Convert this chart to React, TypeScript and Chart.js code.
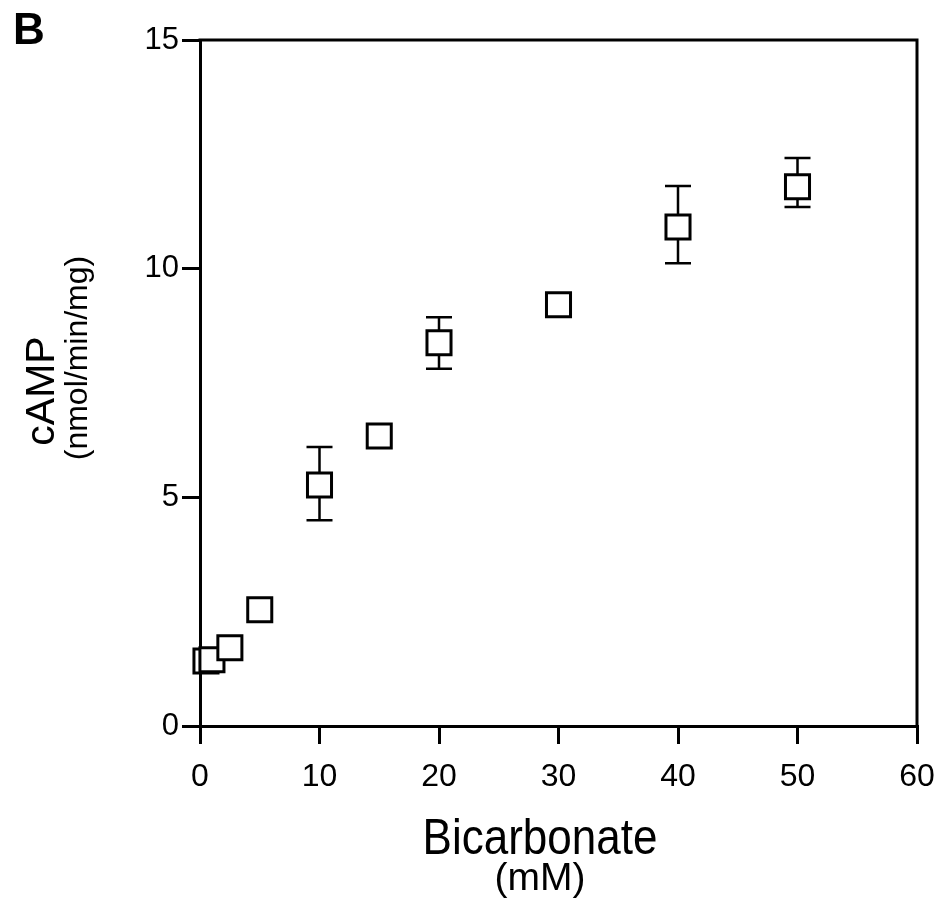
import React, { useEffect, useRef } from 'react';
import { Chart, registerables } from 'chart.js';
Chart.register(...registerables);

// ---- data ----
const bicarbonate = [0.5, 1, 2.5, 5, 10, 15, 20, 30, 40, 50];
const camp = [1.42, 1.45, 1.71, 2.54, 5.27, 6.34, 8.38, 9.21, 10.91, 11.79];
const errHigh: (number | null)[] = [null, null, null, null, 6.1, null, 8.94, null, 11.81, 12.42];
const errLow: (number | null)[] = [null, null, null, null, 4.5, null, 7.81, null, 10.12, 11.35];
const xTicks = [0, 10, 20, 30, 40, 50, 60];
const yTicks = [0, 5, 10, 15];

const FONT = '"Liberation Sans", Arial, Helvetica, sans-serif';

const decor = {
  id: 'decor',
  beforeDatasetsDraw(chart: any) {
    const { ctx, chartArea: a, scales } = chart;
    const x = scales.x;
    const y = scales.y;
    ctx.save();
    ctx.strokeStyle = '#000';
    ctx.lineWidth = 3;
    ctx.lineCap = 'square';
    ctx.beginPath();
    ctx.moveTo(a.left, a.top);
    ctx.lineTo(a.right, a.top);
    ctx.lineTo(a.right, a.bottom);
    ctx.stroke();
    ctx.lineCap = 'butt';
    ctx.lineWidth = 2.5;
    bicarbonate.forEach((xv, i) => {
      const hi = errHigh[i];
      const lo = errLow[i];
      if (hi == null || lo == null) return;
      const px = x.getPixelForValue(xv);
      const pc = y.getPixelForValue(camp[i]);
      const ph = y.getPixelForValue(hi);
      const pl = y.getPixelForValue(lo);
      ctx.beginPath();
      ctx.moveTo(px, pc);
      ctx.lineTo(px, ph);
      ctx.moveTo(px - 13, ph);
      ctx.lineTo(px + 13, ph);
      ctx.moveTo(px, pc);
      ctx.lineTo(px, pl);
      ctx.moveTo(px - 13, pl);
      ctx.lineTo(px + 13, pl);
      ctx.stroke();
    });
    ctx.restore();
  },
  afterDraw(chart: any) {
    const { ctx } = chart;
    ctx.save();
    ctx.fillStyle = '#000';
    // panel letter
    ctx.font = `bold 44px ${FONT}`;
    ctx.textAlign = 'left';
    ctx.textBaseline = 'alphabetic';
    ctx.fillText('B', 13, 44);
    // x title
    ctx.textAlign = 'center';
    ctx.save();
    ctx.translate(540, 854);
    ctx.scale(1, 1.12);
    ctx.font = `44px ${FONT}`;
    ctx.fillText('Bicarbonate', 0, 0);
    ctx.restore();
    ctx.font = `39px ${FONT}`;
    ctx.fillText('(mM)', 540, 890);
    // y title
    ctx.save();
    ctx.translate(54, 391);
    ctx.rotate(-Math.PI / 2);
    ctx.font = `41px ${FONT}`;
    ctx.fillText('cAMP', 0, 0);
    ctx.restore();
    ctx.save();
    ctx.translate(87, 358);
    ctx.rotate(-Math.PI / 2);
    ctx.font = `32px ${FONT}`;
    ctx.fillText('(nmol/min/mg)', 0, 0);
    ctx.restore();
    ctx.restore();
  },
};

export default function App() {
  const ref = useRef<HTMLCanvasElement>(null);
  useEffect(() => {
    if (!ref.current) return;
    const axisCommon = {
      type: 'linear' as const,
      grid: {
        display: true,
        drawOnChartArea: false,
        drawTicks: true,
        tickLength: 18,
        lineWidth: 3,
        color: '#000',
      },
      border: { display: true, width: 3, color: '#000' },
    };
    const chart = new Chart(ref.current, {
      type: 'scatter',
      data: {
        datasets: [
          {
            data: bicarbonate.map((v, i) => ({ x: v, y: camp[i] })),
            pointStyle: 'rect',
            pointRadius: 17,
            pointHoverRadius: 17,
            borderWidth: 3,
            borderColor: '#000',
            backgroundColor: '#fff',
            clip: false as any,
          },
        ],
      },
      options: {
        responsive: false,
        animation: false,
        events: [],
        layout: { autoPadding: false, padding: { left: 0, top: 40, right: 23, bottom: 0 } },
        plugins: { legend: { display: false }, tooltip: { enabled: false } },
        scales: {
          x: {
            ...axisCommon,
            min: 0,
            max: 60,
            afterBuildTicks: (s: any) => {
              s.ticks = xTicks.map((v) => ({ value: v }));
            },
            afterFit: (s: any) => {
              s.height = 179;
              s.paddingLeft = 0;
              s.paddingRight = 0;
            },
            ticks: {
              font: { family: FONT, size: 32 },
              color: '#000',
              padding: 14,
              maxRotation: 0,
              autoSkip: false,
            },
          },
          y: {
            ...axisCommon,
            min: 0,
            max: 15,
            afterBuildTicks: (s: any) => {
              s.ticks = yTicks.map((v) => ({ value: v }));
            },
            afterFit: (s: any) => {
              s.width = 200;
              s.paddingTop = 0;
              s.paddingBottom = 0;
            },
            ticks: {
              font: { family: FONT, size: 31 },
              color: '#000',
              padding: 3,
              autoSkip: false,
            },
          },
        },
      },
      plugins: [decor],
    });
    return () => chart.destroy();
  }, []);
  return (
    <div style={{ position: 'fixed', left: 0, top: 0, width: 940, height: 905, background: '#fff' }}>
      <canvas ref={ref} width={940} height={905} style={{ display: 'block', width: 940, height: 905 }} />
    </div>
  );
}
